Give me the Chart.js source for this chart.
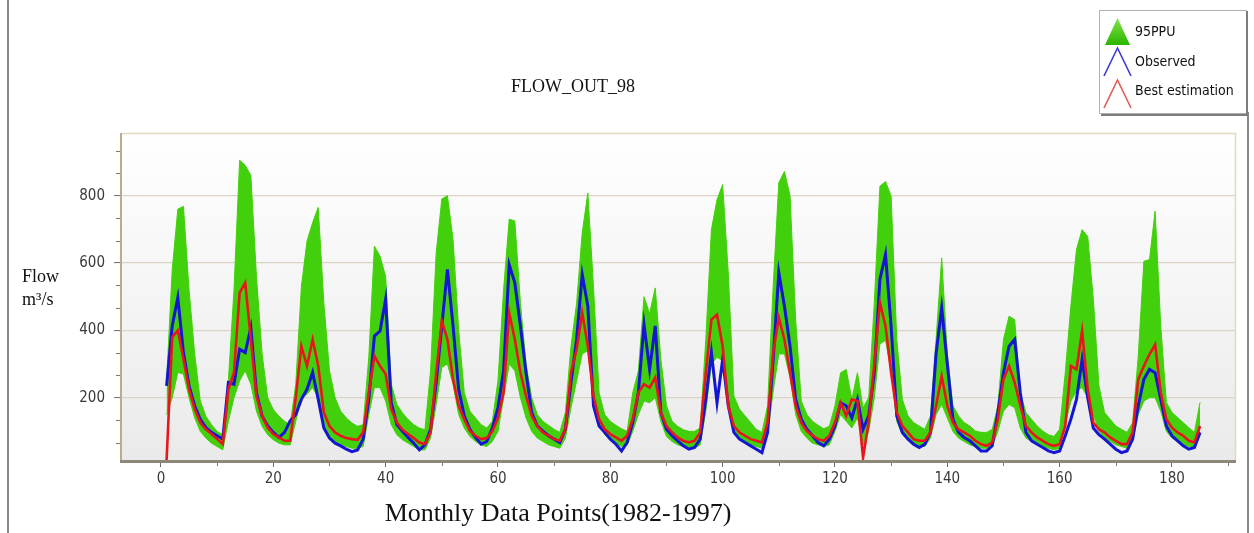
<!DOCTYPE html>
<html><head><meta charset="utf-8">
<script src="https://cdn.jsdelivr.net/npm/chart.js@4.4.1/dist/chart.umd.min.js"></script>
<style>html,body{margin:0;padding:0;background:#fff;overflow:hidden}#wrap{position:relative;width:1254px;height:533px}</style>
</head><body><div id="wrap"><canvas id="c" width="1254" height="533"></canvas></div>
<script>
// ---------- DATA ----------
const months = Array.from({length: 185}, (_, i) => i + 1);
const upper95 = [
250,580,760,768,520,330,190,145,120,100,90,
250,520,905,890,860,560,330,200,165,145,130,120,
240,530,665,720,765,480,280,200,160,140,125,115,120,
320,650,620,560,240,180,155,135,120,110,105,
280,630,790,800,670,400,215,160,140,120,110,130,
250,520,730,725,480,300,200,150,130,118,106,97,
156,353,480,690,808,530,215,150,130,118,108,100,
215,280,500,450,526,314,176,130,115,105,100,100,
110,373,699,788,833,571,205,166,146,126,106,97,
176,531,838,872,800,430,190,150,130,118,108,115,
176,274,284,195,274,170,200,480,828,842,798,373,
195,146,126,116,106,146,373,615,330,176,146,126,
116,101,97,97,106,176,373,442,432,215,156,136,
116,101,90,85,106,274,472,640,699,679,492,235,
156,136,116,106,97,126,324,605,610,754,413,186,
156,141,126,111,97,186
];
const lower95 = [
150,200,275,270,200,140,100,80,65,55,45,
130,200,250,280,240,160,115,90,75,65,60,60,
130,200,210,230,200,120,85,70,60,55,50,50,55,
150,230,230,190,120,90,75,65,55,45,45,
80,180,290,300,240,150,110,85,70,60,55,70,
100,200,300,280,200,140,100,80,70,60,55,50,
80,170,250,330,340,200,120,90,75,65,55,60,
100,150,190,185,200,130,85,70,60,55,50,50,
60,160,300,320,310,180,100,80,70,60,55,50,
90,220,330,330,260,150,100,80,65,60,55,60,
100,150,130,110,140,60,100,200,360,370,280,130,
90,75,60,55,55,80,150,180,140,100,80,70,
60,55,50,50,55,100,160,180,170,110,80,70,
60,55,50,45,50,120,190,220,230,200,150,100,
80,70,60,55,50,70,150,190,200,200,160,100,
80,70,60,55,50,90
];
const observed = [
235,413,497,334,235,176,136,111,97,87,77,
245,240,344,334,408,215,146,116,97,82,97,131,
150,195,225,275,195,110,80,65,57,47,40,45,77,
195,383,398,492,185,120,100,82,65,45,60,
106,245,413,581,413,225,146,106,82,62,70,110,
170,280,595,541,413,274,156,116,101,87,77,67,
106,245,373,566,472,176,116,97,77,62,42,67,
126,215,418,284,413,156,106,87,72,57,47,52,
77,195,334,185,314,176,97,77,67,57,47,37,
97,314,571,472,353,195,136,106,87,67,57,77,
116,185,176,140,195,106,146,274,551,625,410,146,
97,77,62,52,62,97,330,467,300,136,97,82,
72,57,42,42,57,156,274,353,373,215,97,72,
62,52,42,37,42,87,136,195,314,200,110,90,
77,62,47,37,42,77,176,255,284,274,195,116,
87,72,57,47,52,97
];
const bestEstimation = [
15,380,400,314,225,166,126,106,92,77,62,
225,274,511,541,373,205,146,111,92,82,72,72,
200,353,294,373,294,156,116,97,87,80,77,75,97,
215,324,294,270,166,126,105,92,80,67,62,
97,274,428,373,255,176,136,101,87,77,80,100,
140,215,452,373,274,205,146,116,97,87,77,72,
106,274,343,452,353,205,136,106,92,82,72,87,
136,215,240,230,260,156,116,97,82,72,67,72,
97,274,432,447,353,176,116,97,87,77,72,67,
126,334,437,373,274,176,126,101,87,77,72,87,
126,185,146,195,190,22,126,300,482,413,274,156,
116,97,77,72,72,97,176,264,176,126,106,97,
87,72,62,57,67,136,255,294,245,176,116,97,
82,72,62,57,62,116,294,284,398,225,126,106,
97,82,72,62,62,97,255,294,329,358,215,136,
111,97,87,72,67,116
];
const xTickValues = [0,20,40,60,80,100,120,140,160,180];
const yTickValues = [200,400,600,800];
const seriesNames = ['95PPU','Observed','Best estimation'];
const chartTitle = 'FLOW_OUT_98';
const xTitle = 'Monthly Data Points(1982-1997)';
const yTitleLines = ['Flow','m\u00b3/s'];

// ---------- FONTS ----------
function hasFont(name){
  const c=document.createElement('canvas').getContext('2d');
  const t='mmmmwwwiiil0123456789';
  c.font='40px monospace'; const a=c.measureText(t).width;
  c.font="40px '"+name+"', monospace"; const b=c.measureText(t).width;
  return Math.abs(a-b)>0.5;
}
let tickFamily="'Liberation Sans', Arial, sans-serif", tickSize=15, legSize=15;
if(hasFont('Liberation Sans Narrow')){tickFamily="'Liberation Sans Narrow'";tickSize=18;legSize=17;}
else if(hasFont('DejaVu Sans Condensed')){tickFamily="'DejaVu Sans Condensed'";tickSize=15;legSize=14;}
const serif="'Liberation Serif','Times New Roman',serif";

const GREEN='#43d00c', BLUE='#1416d2', RED='#e8161c';
const toXY = arr => months.map((m,i)=>({x:m,y:arr[i]}));

const decor = {
  id:'decor',
  beforeDraw(chart){
    const {ctx, chartArea:a} = chart;
    ctx.save();
    ctx.fillStyle='#fff'; ctx.fillRect(0,0,chart.width,chart.height);
    const g=ctx.createLinearGradient(0,a.top,0,a.bottom);
    g.addColorStop(0,'#ffffff'); g.addColorStop(1,'#eaeaea');
    ctx.fillStyle=g; ctx.fillRect(a.left,a.top,a.right-a.left,a.bottom-a.top);
    ctx.restore();
  },
  afterDatasetsDraw(chart){
    const {ctx, chartArea:a, scales} = chart;
    ctx.save();
    // frame
    ctx.strokeStyle='#e3d8c2'; ctx.lineWidth=1.5;
    ctx.beginPath(); ctx.moveTo(a.left,a.top+0.5); ctx.lineTo(a.right,a.top+0.5); ctx.stroke();
    ctx.beginPath(); ctx.moveTo(a.right-0.5,a.top); ctx.lineTo(a.right-0.5,a.bottom); ctx.stroke();
    ctx.strokeStyle='#b9ab8c'; ctx.lineWidth=2;
    ctx.beginPath(); ctx.moveTo(a.left-1,a.top); ctx.lineTo(a.left-1,a.bottom+1); ctx.stroke();
    ctx.strokeStyle='#8e8676'; ctx.lineWidth=3;
    ctx.beginPath(); ctx.moveTo(a.left-2,a.bottom+1.5); ctx.lineTo(a.right,a.bottom+1.5); ctx.stroke();
    // minor ticks
    ctx.strokeStyle='#7a7a7a'; ctx.lineWidth=1;
    for(let v=200/3; v<986; v+=200/3){
      if(Math.abs(v/200-Math.round(v/200))<0.01) continue;
      const y=Math.round(scales.y.getPixelForValue(v))+0.5;
      ctx.beginPath(); ctx.moveTo(a.left-6,y); ctx.lineTo(a.left-2,y); ctx.stroke();
    }
    for(let v=10; v<=190; v+=20){
      const x=Math.round(scales.x.getPixelForValue(v))+0.5;
      ctx.beginPath(); ctx.moveTo(x,a.bottom+3); ctx.lineTo(x,a.bottom+6); ctx.stroke();
    }
    ctx.restore();
  },
  afterDraw(chart){
    const {ctx} = chart;
    ctx.save();
    // outer frame
    ctx.strokeStyle='#8a8a8a'; ctx.lineWidth=2;
    ctx.beginPath(); ctx.moveTo(8,0); ctx.lineTo(8,533); ctx.stroke();
    ctx.beginPath(); ctx.moveTo(1248,112); ctx.lineTo(1248,533); ctx.stroke();
    // title
    ctx.fillStyle='#111'; ctx.textAlign='center'; ctx.textBaseline='middle';
    ctx.font='18px '+serif; ctx.fillText(chartTitle,573,87);
    ctx.font='26px '+serif; ctx.fillText(xTitle,558,514);
    ctx.textAlign='left'; ctx.font='18px '+serif;
    ctx.fillText(yTitleLines[0],22,277);
    ctx.fillText(yTitleLines[1],22,300);
    // legend
    const L=1099,T=10,W=148,H=104;
    ctx.fillStyle='#fff'; ctx.fillRect(L,T,W,H);
    ctx.strokeStyle='#b0b0b0'; ctx.lineWidth=1; ctx.strokeRect(L+0.5,T+0.5,W-1,H-1);
    ctx.strokeStyle='#7d7d7d'; ctx.lineWidth=2;
    ctx.beginPath(); ctx.moveTo(L+W,T+1); ctx.lineTo(L+W,T+H+1); ctx.lineTo(L+2,T+H+1); ctx.stroke();
    const gg=ctx.createLinearGradient(0,18,0,45);
    gg.addColorStop(0,'#7fe44a'); gg.addColorStop(1,'#2cb400');
    ctx.fillStyle=gg;
    ctx.beginPath(); ctx.moveTo(1105,45); ctx.lineTo(1117.5,18); ctx.lineTo(1130,45); ctx.closePath(); ctx.fill();
    ctx.lineWidth=1.6;
    ctx.strokeStyle='#3a3ad8';
    ctx.beginPath(); ctx.moveTo(1104,76); ctx.lineTo(1117.5,48); ctx.lineTo(1131,76); ctx.stroke();
    ctx.strokeStyle='#e05a5a';
    ctx.beginPath(); ctx.moveTo(1104,108); ctx.lineTo(1117.5,80); ctx.lineTo(1131,108); ctx.stroke();
    ctx.fillStyle='#111'; ctx.font=legSize+'px '+tickFamily; ctx.textBaseline='middle';
    ctx.fillText(seriesNames[0],1135,32);
    ctx.fillText(seriesNames[1],1135,62);
    ctx.fillText(seriesNames[2],1135,91);
    ctx.restore();
  }
};

new Chart(document.getElementById('c'), {
  type:'line',
  data:{ datasets:[
    {label:seriesNames[2], data:toXY(bestEstimation), borderColor:RED, borderWidth:2.6, pointRadius:0, fill:false, order:0, tension:0},
    {label:seriesNames[1], data:toXY(observed), borderColor:BLUE, borderWidth:3, pointRadius:0, fill:false, order:1, tension:0},
    {label:seriesNames[0], data:toXY(upper95), borderColor:GREEN, borderWidth:1, backgroundColor:GREEN, pointRadius:0, fill:3, order:2, tension:0},
    {label:seriesNames[0]+' lower', data:toXY(lower95), borderColor:GREEN, borderWidth:1, pointRadius:0, fill:false, order:3, tension:0}
  ]},
  options:{
    responsive:false, animation:false, devicePixelRatio:1,
    layout:{padding:{top:133,right:18,bottom:0,left:0}},
    plugins:{legend:{display:false}, tooltip:{enabled:false}, title:{display:false}},
    scales:{
      x:{type:'linear', min:-6.94, max:191.4,
        afterBuildTicks:s=>{s.ticks=xTickValues.map(v=>({value:v}));},
        afterFit:s=>{s.height=73;},
        grid:{drawOnChartArea:false, drawTicks:true, tickLength:7, tickColor:'#6a6a6a', tickWidth:1},
        border:{display:false},
        ticks:{font:{family:tickFamily,size:tickSize}, color:'#3a3a3a', padding:3, maxRotation:0, autoSkip:false}
      },
      y:{type:'linear', min:15, max:986,
        afterBuildTicks:s=>{s.ticks=yTickValues.map(v=>({value:v}));},
        afterFit:s=>{s.width=122;},
        grid:{color:'#dcd4c4', lineWidth:1.2, tickLength:8, tickColor:'#6a6a6a', tickWidth:1},
        border:{display:false},
        ticks:{font:{family:tickFamily,size:tickSize}, color:'#3a3a3a', padding:9}
      }
    }
  },
  plugins:[decor]
});
</script></body></html>
